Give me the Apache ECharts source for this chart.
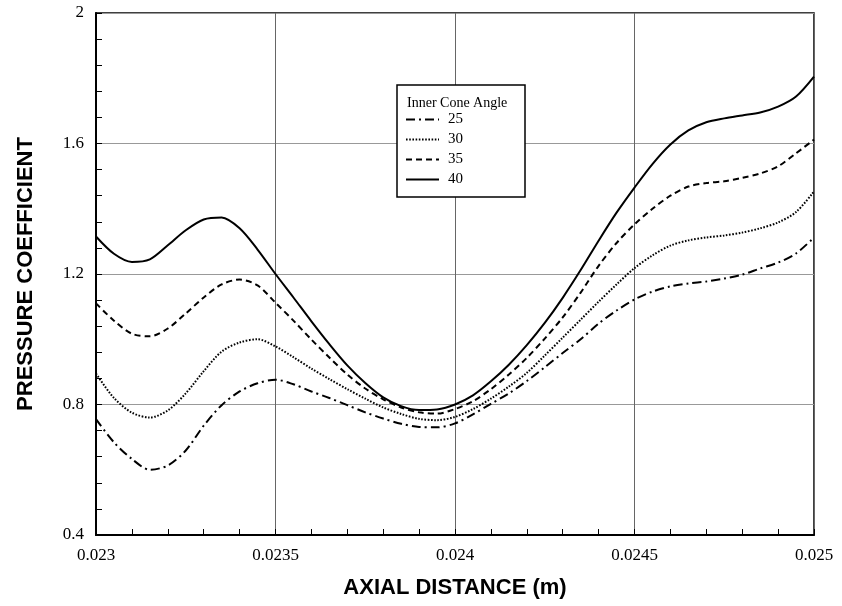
<!DOCTYPE html>
<html>
<head>
<meta charset="utf-8">
<script src="https://cdn.jsdelivr.net/npm/echarts@6/dist/echarts.min.js"></script>
<style>
  html, body { margin: 0; padding: 0; background: #fff; }
  #chart { width: 842px; height: 606px; }
</style>
</head>
<body>
<div id="chart"></div>
<script>
// axial distance (m), every 0.00005
const axialDistance = [
  0.023, 0.02305, 0.0231, 0.02315, 0.0232, 0.02325, 0.0233, 0.02335, 0.0234, 0.02345,
  0.0235, 0.02355, 0.0236, 0.02365, 0.0237, 0.02375, 0.0238, 0.02385, 0.0239, 0.02395,
  0.024, 0.02405, 0.0241, 0.02415, 0.0242, 0.02425, 0.0243, 0.02435, 0.0244, 0.02445,
  0.0245, 0.02455, 0.0246, 0.02465, 0.0247, 0.02475, 0.0248, 0.02485, 0.0249, 0.02495,
  0.025
]

const angle25 = [
  0.755, 0.684, 0.633, 0.600, 0.613, 0.659, 0.735, 0.798, 0.84, 0.865,
  0.876, 0.862, 0.84, 0.82, 0.798, 0.776, 0.757, 0.741, 0.731, 0.73,
  0.742, 0.77, 0.802, 0.834, 0.872, 0.914, 0.958, 1.0, 1.048, 1.088,
  1.122, 1.146, 1.162, 1.171, 1.177, 1.186, 1.198, 1.217, 1.235, 1.263,
  1.312
]
const angle30 = [
  0.895, 0.82, 0.775, 0.76, 0.782, 0.834, 0.902, 0.962, 0.99, 1.0,
  0.978, 0.945, 0.91, 0.878, 0.847, 0.818, 0.791, 0.771, 0.756, 0.752,
  0.762, 0.786, 0.818, 0.855, 0.897, 0.95, 1.005, 1.06, 1.115, 1.168,
  1.218, 1.257, 1.287, 1.303, 1.312, 1.318, 1.327, 1.34, 1.358, 1.39,
  1.453
]
const angle35 = [
  1.11, 1.057, 1.017, 1.009, 1.033, 1.079, 1.128, 1.168, 1.183, 1.165,
  1.112, 1.057, 0.999, 0.944, 0.892, 0.849, 0.816, 0.791, 0.776, 0.772,
  0.786, 0.81, 0.847, 0.892, 0.943, 1.002, 1.067, 1.143, 1.225, 1.295,
  1.352, 1.40, 1.44, 1.468, 1.479, 1.484, 1.495, 1.508, 1.53, 1.57,
  1.612
]
const angle40 = [
  1.315, 1.262, 1.237, 1.245, 1.288, 1.334, 1.367, 1.373, 1.34, 1.275,
  1.20, 1.128, 1.055, 0.985, 0.92, 0.866, 0.822, 0.795, 0.783, 0.785,
  0.80, 0.828, 0.871, 0.922, 0.982, 1.05, 1.127, 1.212, 1.302, 1.388,
  1.465, 1.537, 1.597, 1.64, 1.665, 1.677, 1.686, 1.695, 1.713, 1.744,
  1.805
]

const seriesNames = ['25', '30', '35', '40']
const xTickLabels = ['0.023', '0.0235', '0.024', '0.0245', '0.025']
const yTickLabels = ['0.4', '0.8', '1.2', '1.6', '2']

const serif = "'Liberation Serif', 'DejaVu Serif', serif"
const sans = "'Liberation Sans', Arial, sans-serif"

const pairs = (ys) => axialDistance.map((x, i) => [x, ys[i]])

const lineStyles = [
  { type: [9, 4, 2, 4], width: 2 },
  { type: [1.6, 1.6], width: 2 },
  { type: [6, 4], width: 2 },
  { type: 'solid', width: 2 }
]

const chart = echarts.init(document.getElementById('chart'))

const option = {
  animation: false,
  backgroundColor: '#fff',
  title: {
    text: 'Inner Cone Angle',
    left: 402,
    top: 91,
    textStyle: { fontFamily: serif, fontSize: 14, fontWeight: 'normal', color: '#000' }
  },
  legend: {
    orient: 'vertical',
    left: 397,
    top: 85,
    padding: [27, 62, 10, 8],
    borderColor: '#000',
    borderWidth: 1.5,
    backgroundColor: '#fff',
    itemWidth: 33,
    itemHeight: 14,
    itemGap: 5,
    data: seriesNames,
    itemStyle: { color: 'rgba(0,0,0,0)', borderWidth: 0, opacity: 0 },
    textStyle: { fontFamily: serif, fontSize: 15, color: '#000', padding: [0, 0, 0, 4] }
  },
  grid: {
    left: 96,
    right: 28,
    top: 13,
    bottom: 71,
    show: true,
    borderColor: '#000',
    borderWidth: 1.5
  },
  xAxis: {
    type: 'value',
    min: 0.023,
    max: 0.025,
    interval: 0.0005,
    name: 'AXIAL DISTANCE (m)',
    nameLocation: 'middle',
    nameGap: 42,
    nameTextStyle: { fontFamily: sans, fontSize: 22, fontWeight: 'bold', color: '#000' },
    axisLine: { lineStyle: { color: '#000', width: 2 } },
    axisTick: { inside: true, length: 6, lineStyle: { color: '#000' } },
    minorTick: { show: true, splitNumber: 5, length: 6, lineStyle: { color: '#000' } },
    axisLabel: {
      fontFamily: serif, fontSize: 17, color: '#000', margin: 12,
      formatter: (v) => xTickLabels[Math.round((v - 0.023) / 0.0005)]
    },
    splitLine: { lineStyle: { color: '#666', width: 1 } }
  },
  yAxis: {
    type: 'value',
    min: 0.4,
    max: 2,
    interval: 0.4,
    name: 'PRESSURE COEFFICIENT',
    nameLocation: 'middle',
    nameGap: 59,
    nameTextStyle: { fontFamily: sans, fontSize: 22, fontWeight: 'bold', color: '#000' },
    axisLine: { show: true, lineStyle: { color: '#000', width: 2 } },
    axisTick: { inside: true, length: 6, lineStyle: { color: '#000' } },
    minorTick: { show: true, splitNumber: 5, length: 6, lineStyle: { color: '#000' } },
    axisLabel: {
      fontFamily: serif, fontSize: 17, color: '#000', margin: 12,
      formatter: (v) => yTickLabels[Math.round((v - 0.4) / 0.4)]
    },
    splitLine: { lineStyle: { color: '#999', width: 1 } }
  },
  series: [angle25, angle30, angle35, angle40].map((ys, i) => ({
    name: seriesNames[i],
    type: 'line',
    data: pairs(ys),
    smooth: 0.3,
    symbol: 'none',
    lineStyle: Object.assign({ color: '#000' }, lineStyles[i]),
    itemStyle: { color: '#000' },
    z: 3
  }))
}

chart.setOption(option)
</script>
</body>
</html>
